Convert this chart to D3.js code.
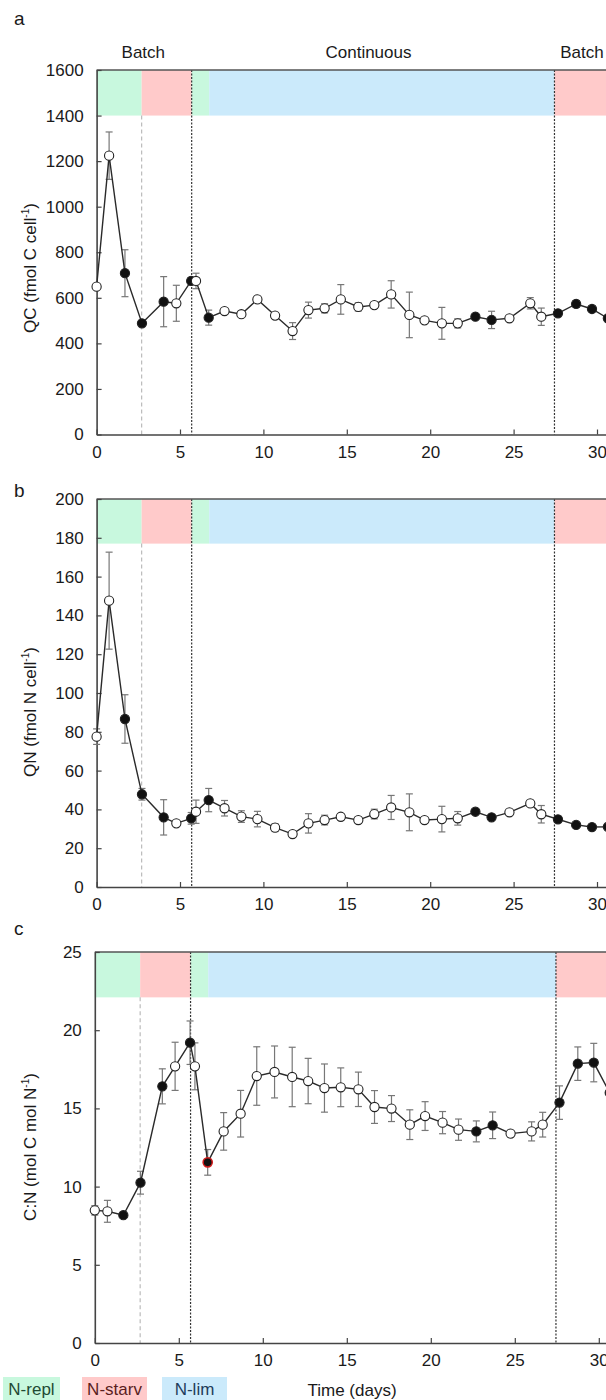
<!DOCTYPE html>
<html lang="en">
<head>
<meta charset="UTF-8">
<script src="https://d3js.org/d3.v7.min.js"></script>
<title>QC QN CN</title>
<style>
  body { margin: 0; background: #fff; }
  svg text { font-family: "Liberation Sans", Arial, sans-serif; fill: #1a1a1a; }
</style>
</head>
<body>
<svg id="svg" width="606" height="1400"></svg>
<script>
// sampling times (days)
const days = [0, 0.75, 1.7, 2.72, 4.02, 4.78, 5.67, 5.96, 6.72, 7.67, 8.68, 9.64, 10.7, 11.75,
  12.7, 13.67, 14.64, 15.69, 16.65, 17.66, 18.75, 19.66, 20.7, 21.65, 22.71, 23.68, 24.75,
  26.0, 26.66, 27.66, 28.75, 29.7, 30.65];
// f = filled marker, o = open marker
const markerType = ["o", "o", "f", "f", "f", "o", "f", "o", "f", "o", "o", "o", "o", "o",
  "o", "o", "o", "o", "o", "o", "o", "o", "o", "o", "f", "f", "o",
  "o", "o", "f", "f", "f", "f"];

const qcValues = [649, 1224, 708, 488, 583, 576, 674, 674, 513, 542, 528, 593, 522, 454,
  546, 554, 593, 560, 568, 615, 525, 501, 488, 488, 517, 503, 510,
  576, 517, 532, 573, 551, 510];
const qcErrors = [0, 104, 103, 12, 110, 79, 15, 34, 33, 10, 8, 10, 12, 37,
  35, 20, 65, 18, 12, 60, 100, 12, 70, 20, 10, 38, 10,
  25, 38, 10, 15, 10, 10];

const qnValues = [77.5, 147.6, 86.6, 47.8, 35.9, 32.8, 35.4, 38.8, 44.8, 40.6, 36.3, 35, 30.6, 27.3,
  32.8, 34.5, 36.2, 34.5, 37.6, 41, 38.5, 34.5, 35, 35.4, 38.8, 35.9, 38.5,
  43.1, 37.5, 34.9, 32, 30.9, 31];
const qnErrors = [4, 25, 12.5, 3, 9.1, 1, 3, 6, 6, 4, 3, 4, 2, 1,
  5, 2.5, 1.5, 1.5, 2.5, 6.2, 9.5, 1.5, 6.6, 3.5, 1, 1, 1,
  1.5, 4.5, 1.5, 1, 1, 1];

const cnValues = [8.48, 8.42, 8.17, 10.25, 16.41, 17.69, 19.2, 17.69, 11.55, 13.53, 14.66, 17.07, 17.33, 17.01,
  16.75, 16.3, 16.35, 16.22, 15.09, 14.99, 13.96, 14.51, 14.09, 13.64, 13.53, 13.92, 13.39,
  13.53, 13.96, 15.37, 17.86, 17.93, 16.0];
const cnErrors = [0.3, 0.7, 0.1, 0.73, 1.12, 1.54, 1.39, 1.5, 0.82, 1.2, 1.49, 1.87, 1.66, 1.9,
  1.45, 1.54, 1.24, 1.1, 1.05, 0.83, 0.95, 0.92, 0.71, 0.68, 0.67, 0.85, 0.2,
  0.61, 0.79, 1.07, 1.07, 1.23, 1.0];
const cnHighlight = 8; // red-rimmed point

// nutrient phases shown as coloured band at the top of each panel
const bandPhases = ["N-repl", "N-starv", "N-repl", "N-lim", "N-starv"];
const bandStarts = [0, 2.7, 5.7, 6.75, 27.45];
const bandEnds = [2.7, 5.7, 6.75, 27.45, 36];

// culture mode labels
const modeLabels = ["Batch", "Continuous", "Batch"];
const modeDays = [2.8, 16.3, 29.1];

// vertical separators
const dashedDays = [2.7];
const dottedDays = [5.7, 27.45];

const xTicks = [0, 5, 10, 15, 20, 25, 30];

const phaseColors = { "N-repl": "#c8f8de", "N-starv": "#ffcaca", "N-lim": "#cbeafb" };
const phaseText = { "N-repl": "#1f4a33", "N-starv": "#5a1e1e", "N-lim": "#1f3d5c" };

const svg = d3.select("#svg");

const panels = [
  { letter: "a", values: qcValues, errors: qcErrors, top: 70, bottom: 434.5, x0: 96.6, ppd: 16.68,
    yMax: 1600, step: 200, bandBottom: 1400, letterY: 25, labelY: 268,
    label: ["QC (fmol C cell", "-1", ")"] },
  { letter: "b", values: qnValues, errors: qnErrors, top: 499, bottom: 887, x0: 96.6, ppd: 16.68,
    yMax: 200, step: 20, bandBottom: 177, letterY: 497, labelY: 712,
    label: ["QN (fmol N cell", "-1", ")"] },
  { letter: "c", values: cnValues, errors: cnErrors, top: 952, bottom: 1343, x0: 94.8, ppd: 16.8,
    yMax: 25, step: 5, bandBottom: 22.1, letterY: 935, labelY: 1147,
    label: ["C:N (mol C mol N", "-1", ")"] }
];

panels.forEach(drawPanel);

function drawPanel(p) {
  const xMax = 36;
  const x = d3.scaleLinear().domain([0, xMax]).range([p.x0, p.x0 + xMax * p.ppd]);
  const y = d3.scaleLinear().domain([0, p.yMax]).range([p.bottom, p.top]);
  const g = svg.append("g");

  // phase bands
  g.selectAll(".band")
    .data(bandPhases)
    .enter()
    .append("rect")
    .attr("x", (d, i) => x(bandStarts[i]))
    .attr("y", y(p.yMax))
    .attr("width", (d, i) => x(bandEnds[i]) - x(bandStarts[i]))
    .attr("height", y(p.bandBottom) - y(p.yMax))
    .attr("fill", (d) => phaseColors[d]);

  // separators
  g.selectAll(".dash")
    .data(dashedDays)
    .enter()
    .append("line")
    .attr("x1", (d) => x(d)).attr("x2", (d) => x(d))
    .attr("y1", y(p.bandBottom)).attr("y2", y(0))
    .attr("stroke", "#bbb")
    .attr("stroke-width", 1.2)
    .attr("stroke-dasharray", "4,3");

  g.selectAll(".dot")
    .data(dottedDays)
    .enter()
    .append("line")
    .attr("x1", (d) => x(d)).attr("x2", (d) => x(d))
    .attr("y1", y(p.yMax)).attr("y2", y(0))
    .attr("stroke", "#333")
    .attr("stroke-width", 1.2)
    .attr("stroke-dasharray", "2,1.5");

  // frame top line
  g.append("line")
    .attr("x1", x(0)).attr("x2", x(xMax))
    .attr("y1", y(p.yMax)).attr("y2", y(p.yMax))
    .attr("stroke", "#555")
    .attr("stroke-width", 1.5);

  // axes
  const yAxis = d3.axisLeft(y)
    .tickValues(d3.range(0, p.yMax + 0.001, p.step))
    .tickFormat(d3.format("d"))
    .tickSizeInner(-5)
    .tickSizeOuter(0)
    .tickPadding(13);
  const yg = g.append("g").attr("transform", `translate(${x(0)},0)`).call(yAxis);

  const xAxis = d3.axisBottom(x)
    .tickValues(xTicks)
    .tickFormat(d3.format("d"))
    .tickSizeInner(-5)
    .tickSizeOuter(0)
    .tickPadding(11);
  const xg = g.append("g").attr("transform", `translate(0,${y(0)})`).call(xAxis);

  [yg, xg].forEach((a) => {
    a.select(".domain").attr("stroke", "#444").attr("stroke-width", 1.6);
    a.selectAll(".tick line").attr("stroke", "#444").attr("stroke-width", 1.2);
    a.selectAll(".tick text").attr("font-size", 17).attr("fill", "#1a1a1a");
  });

  // error bars
  const eb = g.append("g").attr("stroke", "#777").attr("stroke-width", 1.2);
  p.values.forEach((v, i) => {
    const e = p.errors[i];
    if (!e) return;
    const cx = x(days[i]);
    eb.append("line").attr("x1", cx).attr("x2", cx).attr("y1", y(v + e)).attr("y2", y(v - e));
    eb.append("line").attr("x1", cx - 3.5).attr("x2", cx + 3.5).attr("y1", y(v + e)).attr("y2", y(v + e));
    eb.append("line").attr("x1", cx - 3.5).attr("x2", cx + 3.5).attr("y1", y(v - e)).attr("y2", y(v - e));
  });

  // connecting line
  const line = d3.line()
    .x((d, i) => x(days[i]))
    .y((d) => y(d));
  g.append("path")
    .datum(p.values)
    .attr("d", line)
    .attr("fill", "none")
    .attr("stroke", "#2a2a2a")
    .attr("stroke-width", 1.4);

  // markers
  g.selectAll(".pt")
    .data(p.values)
    .enter()
    .append("circle")
    .attr("cx", (d, i) => x(days[i]))
    .attr("cy", (d) => y(d))
    .attr("r", 4.6)
    .attr("fill", (d, i) => markerType[i] === "f" ? "#111" : "#fff")
    .attr("stroke", (d, i) => (p.letter === "c" && i === cnHighlight) ? "#d21a1a" : "#222")
    .attr("stroke-width", (d, i) => (p.letter === "c" && i === cnHighlight) ? 1.5 : 1.1);

  // panel letter
  svg.append("text")
    .attr("x", 14)
    .attr("y", p.letterY)
    .attr("font-size", 19)
    .text(p.letter);

  // y label
  const lab = svg.append("text")
    .attr("transform", `translate(36,${p.labelY}) rotate(-90)`)
    .attr("text-anchor", "middle")
    .attr("font-size", 17);
  lab.append("tspan").text(p.label[0]);
  lab.append("tspan").attr("font-size", 10).attr("dy", -7).text(p.label[1]);
  lab.append("tspan").attr("dy", 7).text(p.label[2]);

  if (p.letter === "a") {
    svg.selectAll(".mode")
      .data(modeLabels)
      .enter()
      .append("text")
      .attr("x", (d, i) => x(modeDays[i]))
      .attr("y", 58)
      .attr("text-anchor", "middle")
      .attr("font-size", 17)
      .text((d) => d);
  }
}

// legend
const legendNames = ["N-repl", "N-starv", "N-lim"];
const legendX = [3, 82, 162];
const legend = svg.selectAll(".leg")
  .data(legendNames)
  .enter()
  .append("g")
  .attr("transform", (d, i) => `translate(${legendX[i]},1377)`);
legend.append("rect")
  .attr("width", (d, i) => i === 0 ? 57 : 65)
  .attr("height", 23)
  .attr("fill", (d) => phaseColors[d]);
legend.append("text")
  .attr("x", (d, i) => i === 0 ? 28.5 : 32.5)
  .attr("y", 18)
  .attr("text-anchor", "middle")
  .attr("font-size", 17)
  .style("fill", (d) => phaseText[d])
  .text((d) => d);

svg.append("text")
  .attr("x", 352)
  .attr("y", 1396)
  .attr("text-anchor", "middle")
  .attr("font-size", 17)
  .text("Time (days)");
</script>
</body>
</html>
